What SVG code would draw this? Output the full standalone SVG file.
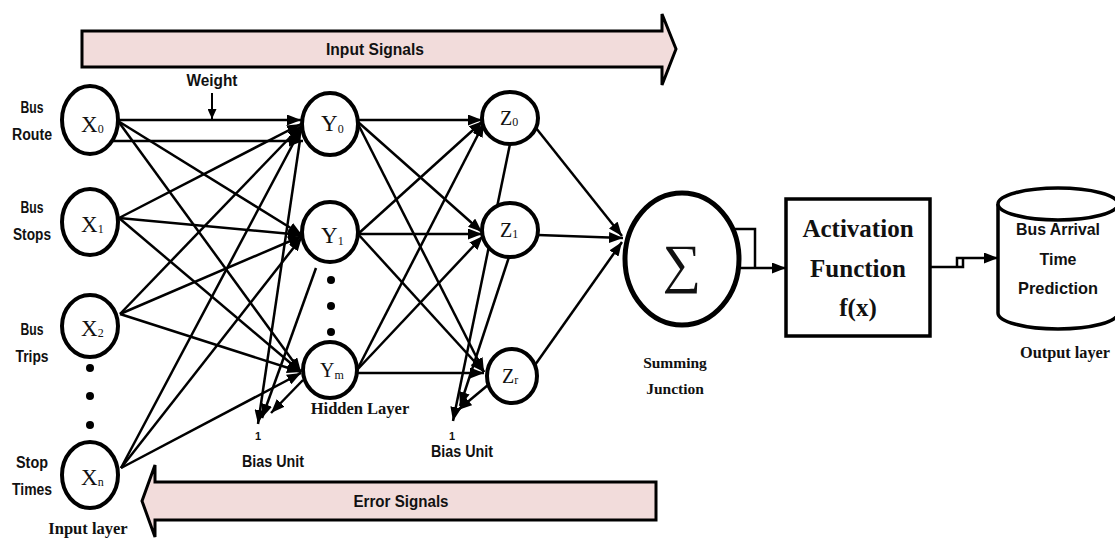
<svg xmlns="http://www.w3.org/2000/svg" width="1115" height="538" viewBox="0 0 1115 538">
<defs>
<marker id="ah" markerUnits="userSpaceOnUse" markerWidth="15" markerHeight="11" refX="14" refY="5.5" orient="auto"><path d="M0,0 L14,5.5 L0,11 z" fill="#000"/></marker>
<marker id="ahs" markerUnits="userSpaceOnUse" markerWidth="11" markerHeight="9" refX="10" refY="4.5" orient="auto"><path d="M0,0 L10,4.5 L0,9 z" fill="#000"/></marker>
</defs>
<style>
.n{fill:#fff;stroke:#000;stroke-width:4}
.c line,.c path,.c polyline{stroke:#000;stroke-width:2.5;fill:none}
.a{marker-end:url(#ah)}
.lab{font-family:"Liberation Sans",Arial,sans-serif;font-weight:bold;font-size:16px;text-anchor:middle;fill:#111}
.big{font-size:17px}
.one{font-size:11px}
.ser{font-family:"Liberation Serif","Times New Roman",serif;font-weight:bold;text-anchor:middle;fill:#111}
.nv{font-family:"Liberation Serif","Times New Roman",serif;font-size:23px;fill:#111}
.zv{font-size:20px}
.sub{font-size:12px}
.band{fill:#f2dcdb;stroke:#000;stroke-width:3}
.dot{fill:#000}
</style>
<rect width="1115" height="538" fill="#fff"/>

<g id="input-signals">
<polygon class="band" points="82,31 662,31 662,14 676,49 662,85 662,67 82,67"/>
<text class="lab big" x="375" y="55" textLength="98" lengthAdjust="spacingAndGlyphs">Input Signals</text>
</g>
<g id="error-signals">
<polygon class="band" points="656,482 155,482 155,465 142,501 155,537 155,520 656,520"/>
<text class="lab big" x="401" y="507" textLength="95" lengthAdjust="spacingAndGlyphs">Error Signals</text>
</g>

<g id="connectors" class="c">
<line class="a" x1="118" y1="120" x2="301" y2="120"/>
<line class="a" x1="112" y1="141" x2="303" y2="141"/>
<line class="a" x1="118" y1="121" x2="302" y2="235"/>
<line class="a" x1="118" y1="121" x2="301" y2="372"/>
<line class="a" x1="119" y1="218" x2="301" y2="124"/>
<line class="a" x1="119" y1="218" x2="302" y2="235"/>
<line class="a" x1="119" y1="218" x2="301" y2="372"/>
<line class="a" x1="120" y1="314" x2="301" y2="126"/>
<line class="a" x1="120" y1="314" x2="302" y2="236"/>
<line class="a" x1="120" y1="314" x2="301" y2="372"/>
<line class="a" x1="121" y1="468" x2="302" y2="127"/>
<line class="a" x1="121" y1="468" x2="302" y2="237"/>
<line class="a" x1="121" y1="468" x2="301" y2="373"/>
<line class="a" x1="300" y1="140" x2="258" y2="424"/>
<line class="a" x1="316" y1="268" x2="262" y2="418"/>
<line class="a" x1="303" y1="380" x2="271" y2="413"/>
<line class="a" x1="358" y1="120" x2="482" y2="120"/>
<line class="a" x1="358" y1="122" x2="482" y2="232"/>
<line class="a" x1="358" y1="124" x2="484" y2="372"/>
<line class="a" x1="358" y1="234" x2="483" y2="121"/>
<line class="a" x1="358" y1="234" x2="482" y2="234"/>
<line class="a" x1="358" y1="234" x2="484" y2="372"/>
<line class="a" x1="357" y1="370" x2="484" y2="123"/>
<line class="a" x1="357" y1="370" x2="483" y2="236"/>
<line class="a" x1="357" y1="373" x2="484" y2="373"/>
<line class="a" x1="510" y1="144" x2="453" y2="421"/>
<line class="a" x1="509" y1="257" x2="460" y2="406"/>
<line class="a" x1="488" y1="385" x2="458" y2="410"/>
<line class="a" x1="536" y1="128" x2="622" y2="236"/>
<line class="a" x1="538" y1="235" x2="623" y2="238"/>
<line class="a" x1="535" y1="365" x2="622" y2="242"/>
<polyline points="735,229 755,229 755,268"/>
<line class="a" x1="739" y1="268" x2="786" y2="268"/>
<polyline points="930,267 963,267 963,258"/>
<polyline class="a" points="957,267 957,258 998,258"/>
<line x1="212" y1="93" x2="212" y2="119" style="marker-end:url(#ahs);stroke-width:2"/>
</g>

<text class="lab" x="212" y="86" style="font-size:17px" textLength="51" lengthAdjust="spacingAndGlyphs">Weight</text>

<g id="X0">
<ellipse class="n" cx="90" cy="120" rx="28" ry="34"/>
<text class="nv" x="81" y="132">X<tspan class="sub" dy="1">0</tspan></text>
<text class="lab" x="32" y="113" textLength="23" lengthAdjust="spacingAndGlyphs">Bus</text>
<text class="lab" x="32" y="140" textLength="40" lengthAdjust="spacingAndGlyphs">Route</text>
</g>
<g id="X1">
<ellipse class="n" cx="90" cy="222" rx="28" ry="33"/>
<text class="nv" x="81" y="232">X<tspan class="sub" dy="1">1</tspan></text>
<text class="lab" x="32" y="213" textLength="23" lengthAdjust="spacingAndGlyphs">Bus</text>
<text class="lab" x="32" y="240" textLength="38" lengthAdjust="spacingAndGlyphs">Stops</text>
</g>
<g id="X2">
<ellipse class="n" cx="90" cy="326" rx="28" ry="31"/>
<text class="nv" x="81" y="336">X<tspan class="sub" dy="1">2</tspan></text>
<text class="lab" x="32" y="335" textLength="23" lengthAdjust="spacingAndGlyphs">Bus</text>
<text class="lab" x="32" y="362" textLength="33" lengthAdjust="spacingAndGlyphs">Trips</text>
</g>
<g id="x-dots">
<circle class="dot" cx="90" cy="368" r="4"/>
<circle class="dot" cx="90" cy="396" r="4"/>
<circle class="dot" cx="90" cy="425" r="4"/>
</g>
<g id="Xn">
<ellipse class="n" cx="90" cy="475" rx="28" ry="33"/>
<text class="nv" x="81" y="485">X<tspan class="sub" dy="1">n</tspan></text>
<text class="lab" x="32" y="468" textLength="32" lengthAdjust="spacingAndGlyphs">Stop</text>
<text class="lab" x="32" y="495" textLength="40" lengthAdjust="spacingAndGlyphs">Times</text>
</g>
<text class="ser" x="88" y="534" style="font-size:16.5px">Input layer</text>

<g id="Y0">
<ellipse class="n" cx="330" cy="124" rx="28" ry="31"/>
<text class="nv" x="321" y="131">Y<tspan class="sub" dy="2">0</tspan></text>
</g>
<g id="Y1">
<ellipse class="n" cx="330" cy="232" rx="28" ry="30"/>
<text class="nv" x="321" y="243">Y<tspan class="sub" dy="2">1</tspan></text>
</g>
<g id="y-dots">
<circle class="dot" cx="331" cy="280" r="4"/>
<circle class="dot" cx="331" cy="306" r="4"/>
<circle class="dot" cx="331" cy="332" r="4"/>
</g>
<g id="Ym">
<ellipse class="n" cx="330" cy="370" rx="27" ry="28"/>
<text class="nv zv" x="320" y="377">Y<tspan class="sub" dy="2">m</tspan></text>
</g>
<text class="ser" x="360" y="414" style="font-size:16.5px">Hidden Layer</text>

<g id="bias1">
<text class="lab one" x="258" y="440">1</text>
<text class="lab" x="273" y="467" textLength="62" lengthAdjust="spacingAndGlyphs">Bias Unit</text>
</g>

<g id="Z0">
<ellipse class="n" cx="510" cy="118" rx="28" ry="26"/>
<text class="nv zv" x="500" y="125">Z<tspan class="sub" dy="1">0</tspan></text>
</g>
<g id="Z1">
<ellipse class="n" cx="510" cy="230" rx="28" ry="27"/>
<text class="nv zv" x="500" y="237">Z<tspan class="sub" dy="1">1</tspan></text>
</g>
<g id="Zr">
<ellipse class="n" cx="512" cy="376" rx="25" ry="27"/>
<text class="nv zv" x="502" y="383">Z<tspan class="sub" dy="1">r</tspan></text>
</g>

<g id="bias2">
<text class="lab one" x="452" y="440">1</text>
<text class="lab" x="462" y="457" textLength="62" lengthAdjust="spacingAndGlyphs">Bias Unit</text>
</g>

<g id="sum">
<ellipse cx="682" cy="259" rx="57" ry="66" fill="#fff" stroke="#000" stroke-width="5"/>
<text x="682" y="282" style="font-family:'Liberation Serif',serif;font-size:54px;text-anchor:middle;fill:#111">∑</text>
<text class="ser" x="675" y="368" style="font-size:15.5px">Summing</text>
<text class="ser" x="675" y="394" style="font-size:15.5px">Junction</text>
</g>

<g id="activation">
<rect x="786" y="199" width="144" height="137" fill="#fff" stroke="#000" stroke-width="3.5"/>
<text class="ser" x="858" y="237" style="font-size:25px">Activation</text>
<text class="ser" x="858" y="277" style="font-size:25px">Function</text>
<text class="ser" x="858" y="316" style="font-size:25px">f(x)</text>
</g>

<g id="output">
<path d="M998,204 V313 A60,16 0 0 0 1118,313 V204" fill="#fff" stroke="#000" stroke-width="3.5"/>
<ellipse cx="1058" cy="204" rx="60" ry="16" fill="#fff" stroke="#000" stroke-width="3.5"/>
<text class="lab big" x="1058" y="235" textLength="84" lengthAdjust="spacingAndGlyphs">Bus Arrival</text>
<text class="lab big" x="1058" y="265" textLength="37" lengthAdjust="spacingAndGlyphs">Time</text>
<text class="lab big" x="1058" y="294" textLength="80" lengthAdjust="spacingAndGlyphs">Prediction</text>
<text class="ser" x="1065" y="358" style="font-size:16.3px">Output layer</text>
</g>
</svg>
